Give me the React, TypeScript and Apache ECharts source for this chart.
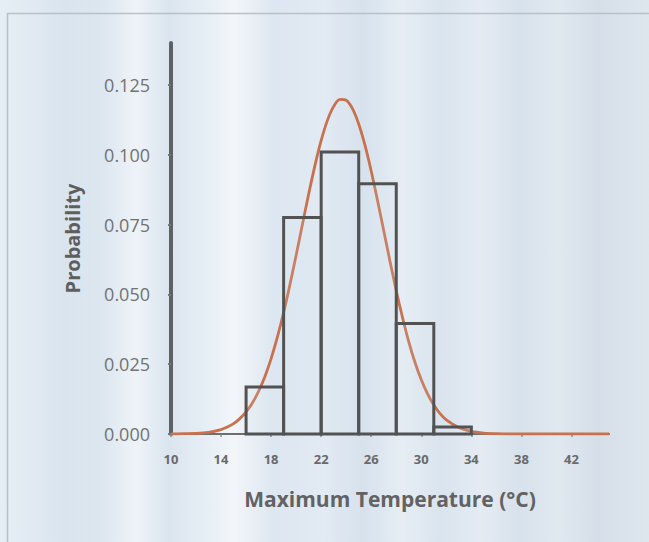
import React, { useEffect, useRef } from "react";
import * as echarts from "echarts";

// Histogram bins (°C) and probabilities
const binStarts = [16, 19, 22, 25, 28, 31];
const binEnds = [19, 22, 25, 28, 31, 34];
const binProb = [0.0168, 0.0775, 0.101, 0.0896, 0.0396, 0.0025];

// Fitted curve
const curveX = [10, 11, 12, 13, 14, 14.5, 15, 15.5, 16, 16.5, 17, 17.5, 18, 18.5, 19, 19.5, 20, 20.5, 21, 21.5, 22, 22.5, 23, 23.5, 24, 24.5, 25, 25.5, 26, 26.5, 27, 27.5, 28, 28.5, 29, 29.5, 30, 30.5, 31, 31.5, 32, 33, 34, 35, 36, 37, 40, 45];
const curveY = [0.0, 0.0001, 0.0002, 0.0006, 0.0016, 0.0025, 0.0037, 0.0055, 0.0079, 0.0111, 0.0153, 0.0205, 0.027, 0.0347, 0.0435, 0.0534, 0.064, 0.075, 0.0859, 0.0961, 0.1051, 0.1123, 0.1173, 0.1198, 0.1195, 0.1165, 0.111, 0.1034, 0.0941, 0.0837, 0.0728, 0.0618, 0.0513, 0.0417, 0.033, 0.0256, 0.0194, 0.0144, 0.0104, 0.0073, 0.0051, 0.0023, 0.0009, 0.0003, 0.0001, 0.0, 0.0, 0.0];

const xTicks = [10, 14, 18, 22, 26, 30, 34, 38, 42];
const yTicks = [0, 0.025, 0.05, 0.075, 0.1, 0.125];

export default function App() {
  const ref = useRef<HTMLDivElement>(null);
  useEffect(() => {
    if (!ref.current) return;
    const chart = echarts.init(ref.current, null, { renderer: "svg" });
    const bg = new echarts.graphic.LinearGradient(0, 0, 1, 0, [
      { offset: 0.0, color: "#e6eef5" },
      { offset: 0.04, color: "#e2ebf3" },
      { offset: 0.1, color: "#d9e4ee" },
      { offset: 0.16, color: "#dde7f0" },
      { offset: 0.21, color: "#eef3f8" },
      { offset: 0.26, color: "#dbe5ef" },
      { offset: 0.33, color: "#e9f0f6" },
      { offset: 0.36, color: "#f3f6f9" },
      { offset: 0.42, color: "#dde7f1" },
      { offset: 0.5, color: "#e2eaf3" },
      { offset: 0.56, color: "#d7e2ed" },
      { offset: 0.62, color: "#e6edf4" },
      { offset: 0.68, color: "#dae4ee" },
      { offset: 0.74, color: "#e4ebf3" },
      { offset: 0.8, color: "#d8e2ec" },
      { offset: 0.86, color: "#e0e8f0" },
      { offset: 0.92, color: "#d6dfe9" },
      { offset: 1.0, color: "#dee6ee" },
    ]);
    chart.setOption({
      animation: false,
      backgroundColor: bg,
      graphic: [
        {
          type: "polyline",
          shape: { points: [[7.5, 542], [7.5, 13.5], [649, 13.5]] },
          style: { stroke: "#b9c0c8", lineWidth: 1.5, fill: "none" },
          z: 0,
        },
      ],
      grid: { left: 171, right: 40, top: 43, bottom: 108, containLabel: false },
      xAxis: {
        type: "value",
        min: 10,
        max: 45,
        interval: 4,
        splitLine: { show: false },
        axisLine: { show: true, lineStyle: { color: "#6e6e6e", width: 2 } },
        axisTick: { show: true, length: 3, customValues: xTicks, lineStyle: { color: "#8a8a8a", width: 1.5 } },
        axisLabel: {
          customValues: xTicks,
          color: "#6a6a6a",
          fontFamily: "Open Sans",
          fontWeight: "bold",
          fontSize: 13,
          margin: 18,
        },
        name: "Maximum Temperature (°C)",
        nameLocation: "middle",
        nameGap: 54,
        nameTextStyle: { color: "#626262", fontFamily: "Open Sans", fontWeight: "bold", fontSize: 21 },
      },
      yAxis: {
        type: "value",
        min: 0,
        max: 0.14,
        interval: 0.025,
        splitLine: { show: false },
        axisLine: { show: true, lineStyle: { color: "#5c6166", width: 4 } },
        axisTick: { show: true, length: 3, customValues: yTicks, lineStyle: { color: "#777", width: 2 } },
        axisLabel: {
          customValues: yTicks,
          color: "#727272",
          fontFamily: "Open Sans",
          fontSize: 18,
          margin: 21,
          formatter: (v: number) => v.toFixed(3),
        },
        name: "Probability",
        nameLocation: "middle",
        nameGap: 89,
        nameTextStyle: { color: "#5e5e5e", fontFamily: "Open Sans", fontWeight: "bold", fontSize: 20 },
      },
      series: [
        {
          type: "line",
          data: curveX.map((x, i) => [x, curveY[i]]),
          smooth: 0.3,
          showSymbol: false,
          lineStyle: { color: "#c8714f", width: 2.8 },
          z: 2,
        },
        {
          type: "custom",
          z: 3,
          data: binStarts.map((s, i) => [s, binEnds[i], binProb[i]]),
          renderItem: (params: any, api: any) => {
            const p0 = api.coord([api.value(0), api.value(2)]);
            const p1 = api.coord([api.value(1), 0]);
            return {
              type: "rect",
              shape: { x: p0[0], y: p0[1], width: p1[0] - p0[0], height: p1[1] - p0[1] },
              style: { fill: "rgba(215,228,242,0.12)", stroke: "#525252", lineWidth: 3 },
            };
          },
        },
      ],
    });
    return () => chart.dispose();
  }, []);
  return <div ref={ref} style={{ position: "fixed", left: 0, top: 0, width: 649, height: 542 }} />;
}
